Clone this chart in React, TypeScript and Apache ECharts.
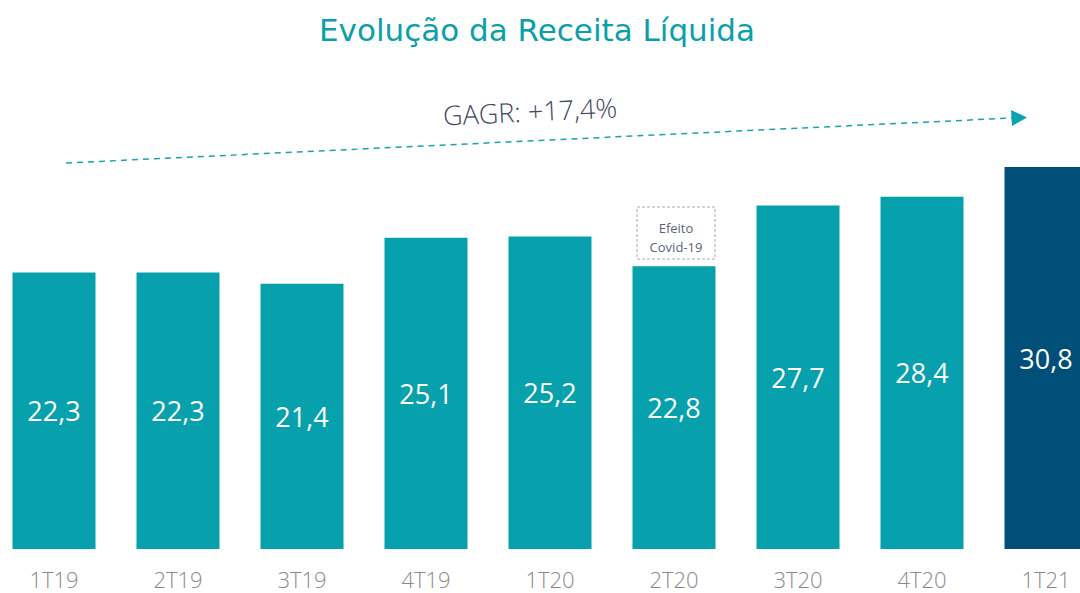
import React, { useEffect, useRef } from "react";
import * as echarts from "echarts";

const categories = ["1T19", "2T19", "3T19", "4T19", "1T20", "2T20", "3T20", "4T20", "1T21"];
const values = [22.3, 22.3, 21.4, 25.1, 25.2, 22.8, 27.7, 28.4, 30.8];
const highlightIndex = 8;
const titleText = "Evolução da Receita Líquida";
const cagrText = "GAGR: +17,4%";
const noteLines = ["Efeito", "Covid-19"];

const TEAL = "#06a1ac";
const DARK = "#004f78";
// chart canvas is shifted left by OFF px so the last bar is cut at the page edge
const OFF = 8;

export default function App() {
  const ref = useRef<HTMLDivElement>(null);
  useEffect(() => {
    if (!ref.current) return;
    const chart = echarts.init(ref.current, undefined, { renderer: "svg" });
    const font = "'Open Sans', 'Noto Sans', sans-serif";
    chart.setOption({
      animation: false,
      backgroundColor: "#ffffff",
      grid: { left: 0, right: 0, top: 53, bottom: 44, containLabel: false },
      xAxis: {
        type: "category",
        data: categories,
        axisLine: { show: false },
        axisTick: { show: false },
        axisLabel: { color: "#8a8a8a", fontSize: 22, margin: 19, fontFamily: font, fontWeight: 300 },
      },
      yAxis: { type: "value", min: 0, max: 40, show: false, splitLine: { show: false } },
      series: [
        {
          type: "bar",
          barWidth: 83,
          data: values.map((v, i) => ({ value: v, itemStyle: { color: i === highlightIndex ? DARK : TEAL } })),
          label: {
            show: true,
            position: "inside",
            color: "#ffffff",
            fontSize: 27,
            fontFamily: font,
            formatter: (p: any) => String(p.value).replace(".", ","),
          },
        },
      ],
      graphic: [
        {
          type: "text",
          x: 537 + OFF,
          y: 30,
          style: {
            text: titleText,
            fill: "#0ba0a9",
            fontSize: 31,
            fontFamily: "'DejaVu Sans', sans-serif",
            align: "center",
            verticalAlign: "middle",
          },
        },
        {
          type: "line",
          shape: { x1: 66 + OFF, y1: 163, x2: 1012 + OFF, y2: 118 },
          style: { stroke: "#1aa3ad", lineWidth: 1.5, lineDash: [6, 5] },
        },
        {
          type: "polygon",
          shape: { points: [[1011 + OFF, 110], [1012 + OFF, 126], [1027 + OFF, 117.5]] },
          style: { fill: "#0aa2ac" },
        },
        {
          type: "text",
          x: 530 + OFF,
          y: 111,
          rotation: (2.7 * Math.PI) / 180,
          style: {
            text: cagrText,
            fill: "#3f4a62",
            fontSize: 27,
            fontFamily: font,
            fontWeight: 300,
            align: "center",
            verticalAlign: "middle",
          },
        },
        {
          type: "rect",
          shape: { x: 637 + OFF, y: 207, width: 78, height: 52 },
          style: { fill: "none", stroke: "#aaaaaa", lineWidth: 1, lineDash: [3, 2] },
        },
        {
          type: "text",
          x: 676 + OFF,
          y: 228,
          style: { text: noteLines[0], fill: "#5b6478", fontSize: 13, fontFamily: font, align: "center", verticalAlign: "middle" },
        },
        {
          type: "text",
          x: 676 + OFF,
          y: 247,
          style: { text: noteLines[1], fill: "#5b6478", fontSize: 13, fontFamily: font, align: "center", verticalAlign: "middle" },
        },
      ],
    });
    return () => chart.dispose();
  }, []);
  return (
    <div style={{ position: "absolute", left: 0, top: 0, width: 1080, height: 593, overflow: "hidden" }}>
      <div ref={ref} style={{ position: "absolute", left: -OFF, top: 0, width: 1116, height: 593 }} />
    </div>
  );
}
